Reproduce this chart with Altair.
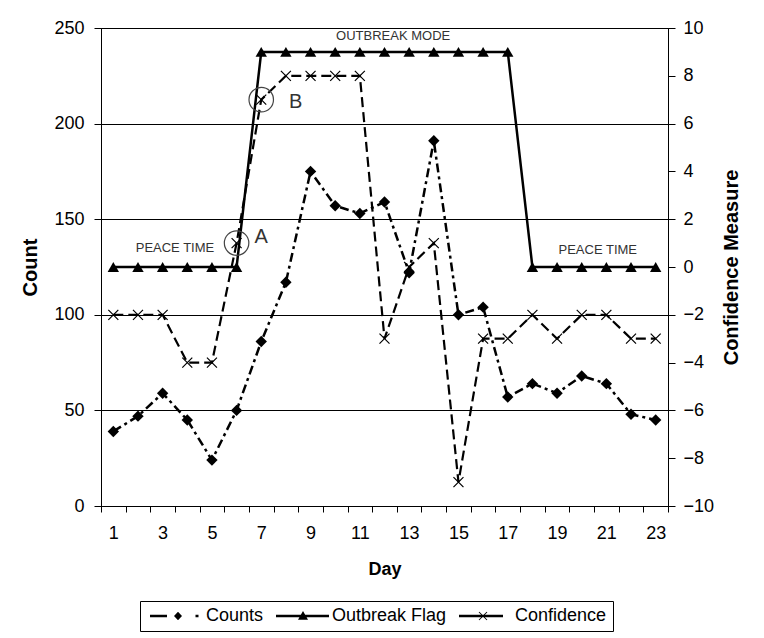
import altair as alt
import pandas as pd

# ---------------- data ----------------
days = list(range(1, 24))
counts = [39, 47, 59, 45, 24, 50, 86, 117, 175, 157, 153, 159, 122, 191,
          100, 104, 57, 64, 59, 68, 64, 48, 45]
outbreak_flag = [0, 0, 0, 0, 0, 0, 9, 9, 9, 9, 9, 9, 9, 9, 9, 9, 9,
                 0, 0, 0, 0, 0, 0]
confidence = [-2, -2, -2, -4, -4, 1, 7, 8, 8, 8, 8, -3, 0, 1, -9, -3, -3,
              -2, -3, -2, -2, -3, -3]

series_names = ["Counts", "Outbreak Flag", "Confidence"]

count_ticks = [0, 50, 100, 150, 200, 250]
conf_ticks = [-10, -8, -6, -4, -2, 0, 2, 4, 6, 8, 10]
x_tick_positions = [0.5, 1.5, 2.5, 3.5, 4.5, 5.5, 6.5, 7.5, 8.5, 9.5, 10.5, 11.5,
                    12.5, 13.5, 14.5, 15.5, 16.5, 17.5, 18.5, 19.5, 20.5, 21.5,
                    22.5, 23.5]

note_text = ["PEACE TIME", "OUTBREAK MODE", "PEACE TIME"]
note_day = [3.5, 12.35, 20.65]
note_count = [135, 246, 134]

circle_day = [6, 7]
circle_conf = [1, 7]
letter_text = ["A", "B"]
letter_day = [7.0, 8.4]
letter_conf = [1.25, 6.9]

# legend symbols (line + marker) as filled custom SVG paths
legend_paths = [
    "M-1,-0.25H2.4V0.25H-1Z M3.8,0L4.6,-0.85L5.4,0L4.6,0.85Z M8.1,-0.25H8.7V0.25H8.1Z",
    "M-1,-0.25H9.6V0.25H-1Z M4.4,-1L5.4,0.75L3.4,0.75Z",
    "M-1,-0.25H7.8V0.25H-1Z M3.07,-0.87L4.67,0.73L4.53,0.87L2.93,-0.73Z "
    "M4.67,-0.73L3.07,0.87L2.93,0.73L4.53,-0.87Z",
]

FONT = "Liberation Sans"

df = pd.DataFrame({"Day": days, "Counts": counts, "Flag": outbreak_flag,
                   "Confidence": confidence})
notes = pd.DataFrame({"text": note_text, "Day": note_day, "val": note_count})
circles = pd.DataFrame({"Day": circle_day, "val": circle_conf})
letters = pd.DataFrame({"text": letter_text, "Day": letter_day, "val": letter_conf})
legend_df = pd.DataFrame({"series": series_names})

# ---------------- encodings ----------------
x_scale = alt.Scale(domain=[0.5, 23.5], nice=False, zero=False)
x_axis = alt.Axis(values=x_tick_positions,
                  labelExpr="datum.value % 2 == 0.5 ? '' + (datum.value + 0.5) : ''",
                  labelOffset=12.3, labelOverlap=False, labelBound=False,
                  labelFlush=False, grid=False, tickSize=6, labelPadding=12,
                  title="Day", titlePadding=18)

left_scale = alt.Scale(domain=[0, 250], nice=False, zero=False)
left_axis = alt.Axis(orient="left", values=count_ticks, title="Count",
                     grid=True, gridColor="black", gridOpacity=1, gridWidth=1,
                     tickSize=7, labelPadding=10, titlePadding=13,
                     titleFontSize=20)

right_scale = alt.Scale(domain=[-10, 10], nice=False, zero=False)
right_axis = alt.Axis(orient="right", values=conf_ticks,
                      title="Confidence Measure", titleAngle=270,
                      grid=False, tickSize=7, labelPadding=8, titlePadding=28,
                      titleFontSize=20)


def X(field="Day"):
    return alt.X(f"{field}:Q", scale=x_scale, axis=x_axis)


def YL(field):
    return alt.Y(f"{field}:Q", scale=left_scale, axis=left_axis)


def YR(field):
    return alt.Y(f"{field}:Q", scale=right_scale, axis=right_axis)


base = alt.Chart(df)

# ---------------- left (Count) layer ----------------
counts_line = base.mark_line(color="black", strokeWidth=2.5,
                             strokeDash=[9, 4, 3, 4]).encode(x=X(), y=YL("Counts"))
counts_pts = base.mark_point(shape="diamond", filled=True, color="black",
                             size=130, opacity=1).encode(x=X(), y=YL("Counts"))
note_marks = alt.Chart(notes).mark_text(font=FONT, fontSize=13, color="#333333",
                                        baseline="middle", align="center").encode(
    x=X(), y=YL("val"), text="text:N")

left = alt.layer(counts_line, counts_pts, note_marks)

# ---------------- right (Confidence) layer ----------------
flag_line = base.mark_line(color="black", strokeWidth=2.5).encode(x=X(), y=YR("Flag"))
flag_pts = base.mark_point(shape="triangle-up", filled=True, color="black",
                           size=130, opacity=1).encode(x=X(), y=YR("Flag"))
conf_line = base.mark_line(color="black", strokeWidth=2.2,
                           strokeDash=[10, 5]).encode(x=X(), y=YR("Confidence"))
conf_pts = base.mark_point(shape="M-1,-1L1,1M-1,1L1,-1", filled=False,
                           color="black", strokeWidth=1.2, size=100,
                           opacity=1).encode(x=X(), y=YR("Confidence"))
circle_marks = alt.Chart(circles).mark_point(shape="circle", filled=False,
                                             color="#444444", strokeWidth=1.2,
                                             size=600, opacity=1).encode(
    x=X(), y=YR("val"))
letter_marks = alt.Chart(letters).mark_text(font=FONT, fontSize=20, color="#333333",
                                            baseline="middle", align="center").encode(
    x=X(), y=YR("val"), text="text:N")

legend_layer = alt.Chart(legend_df).mark_point(
    filled=True, color="black", opacity=0, size=100).encode(
    shape=alt.Shape("series:N",
                    scale=alt.Scale(domain=series_names, range=legend_paths),
                    legend=alt.Legend(orient="none", legendX=39, legendY=573,
                                      direction="horizontal", title=None,
                                      strokeColor="black", fillColor="white",
                                      padding=6, labelFont=FONT, labelFontSize=18,
                                      labelColor="black", symbolSize=100,
                                      symbolFillColor="black", symbolOpacity=1,
                                      labelOffset=42, columnPadding=8,
                                      labelLimit=0)))

right = alt.layer(flag_line, flag_pts, conf_line, conf_pts, circle_marks,
                  letter_marks, legend_layer)

chart = alt.layer(left, right).resolve_scale(y="independent").properties(
    width=567, height=478,
    autosize=alt.AutoSizeParams(type="none"),
    padding={"left": 93, "top": 20, "right": 88, "bottom": 130},
).configure_view(stroke="black", strokeWidth=1).configure_axis(
    labelFont=FONT, titleFont=FONT, labelFontSize=18, titleFontSize=18,
    titleFontWeight="bold", labelColor="black", titleColor="black",
    domainColor="black", tickColor="black", domainWidth=1, tickWidth=1,
)

chart.save("out.html", embed_options={"renderer": "svg", "actions": False})
